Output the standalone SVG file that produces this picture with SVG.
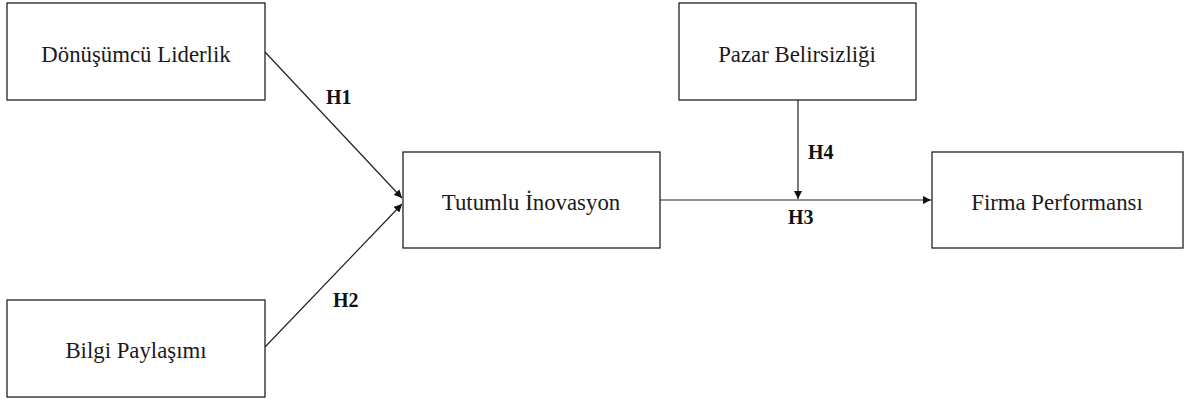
<svg xmlns="http://www.w3.org/2000/svg" width="1186" height="399" viewBox="0 0 1186 399">
<style>
.box{fill:#fff;stroke:#222;stroke-width:1.3}
.lbl{font-family:"Liberation Serif","Times New Roman",serif;font-size:22.8px;fill:#1a1a1a;text-anchor:middle}
.h{font-family:"Liberation Serif","Times New Roman",serif;font-size:20px;font-weight:bold;fill:#111}
.c{stroke:#222;stroke-width:1.2;fill:none;marker-end:url(#ah)}
</style>
<defs>
<marker id="ah" viewBox="0 0 10 10" refX="10" refY="5" markerWidth="8" markerHeight="8" markerUnits="userSpaceOnUse" orient="auto">
<path d="M0,0 L10,5 L0,10 z" fill="#111"/>
</marker>
</defs>
<rect width="1186" height="399" fill="#fff"/>
<g id="connectors">
<line class="c" x1="265" y1="52" x2="402" y2="198"/>
<line class="c" x1="265" y1="347" x2="402" y2="204"/>
<line class="c" x1="660" y1="200" x2="931" y2="200"/>
<line class="c" x1="798" y1="100" x2="798" y2="199"/>
<text class="h" x="326" y="104">H1</text>
<text class="h" x="333" y="307">H2</text>
<text class="h" x="788" y="224">H3</text>
<text class="h" x="808" y="159">H4</text>
</g>
<g id="donusumcu">
<rect class="box" x="7" y="3" width="258" height="97"/>
<text class="lbl" x="136" y="62">Dönüşümcü Liderlik</text>
</g>
<g id="bilgi">
<rect class="box" x="7" y="300" width="258" height="97"/>
<text class="lbl" x="136" y="358">Bilgi Paylaşımı</text>
</g>
<g id="tutumlu">
<rect class="box" x="403" y="152" width="257" height="96"/>
<text class="lbl" x="531" y="210">Tutumlu İnovasyon</text>
</g>
<g id="pazar">
<rect class="box" x="679" y="3" width="237" height="97"/>
<text class="lbl" x="797" y="62">Pazar Belirsizliği</text>
</g>
<g id="firma">
<rect class="box" x="932" y="152" width="251" height="96"/>
<text class="lbl" x="1057" y="210">Firma Performansı</text>
</g>
</svg>
